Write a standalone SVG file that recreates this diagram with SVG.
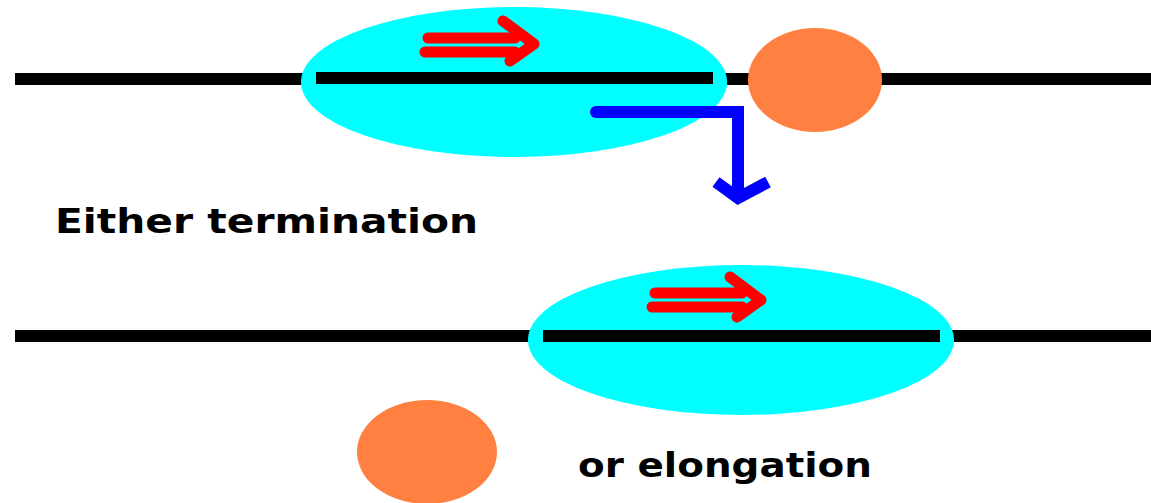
<svg xmlns="http://www.w3.org/2000/svg" width="1151" height="503" viewBox="0 0 1151 503">
<style>
.dna{stroke:#000;stroke-width:12;fill:none}
.poly{fill:#00FFFF}
.rho{fill:#FF8040}
.red{stroke:#FF0000;stroke-width:11;fill:none;stroke-linecap:round;stroke-linejoin:round}
.blue{stroke:#0000FF;stroke-width:12;fill:none;stroke-linejoin:miter}
.lbl{font-family:"Comic Sans MS","DejaVu Sans",sans-serif;font-weight:bold;font-size:34px;fill:#000}
</style>
<rect width="1151" height="503" fill="#fff"/>
<g id="dna-top"><line class="dna" x1="15" y1="79" x2="1151" y2="79"/></g>
<g id="dna-bottom"><line class="dna" x1="15" y1="336" x2="1151" y2="336"/></g>
<g id="polymerase-top">
<ellipse class="poly" cx="514" cy="82" rx="213" ry="75"/>
<line class="dna" x1="316" y1="78" x2="713" y2="78"/>
</g>
<g id="rho-top"><ellipse class="rho" cx="815" cy="80" rx="67" ry="52"/></g>
<g id="polymerase-bottom">
<ellipse class="poly" cx="741" cy="340" rx="213" ry="75"/>
<line class="dna" x1="543" y1="336" x2="940" y2="336"/>
</g>
<g id="rho-bottom"><ellipse class="rho" cx="427" cy="452" rx="70" ry="52"/></g>
<g id="connectors">
<path class="red" d="M428 38 H515 M425 52 H515 M503 21 L534 44 L510 61"/>
<path class="red" d="M655 293 H742 M652 307 H742 M730 277 L761 300 L737 317"/>
<path class="blue" d="M596 112 H738 V198"/>
<circle cx="596" cy="112" r="6" fill="#0000FF"/>
<path class="blue" d="M716 182 L738 198 L768 182"/>
</g>
<g id="label-termination"><text class="lbl" x="55" y="233" textLength="423" lengthAdjust="spacingAndGlyphs">Either termination</text></g>
<g id="label-elongation"><text class="lbl" x="578" y="477" textLength="294" lengthAdjust="spacingAndGlyphs">or elongation</text></g>
</svg>
